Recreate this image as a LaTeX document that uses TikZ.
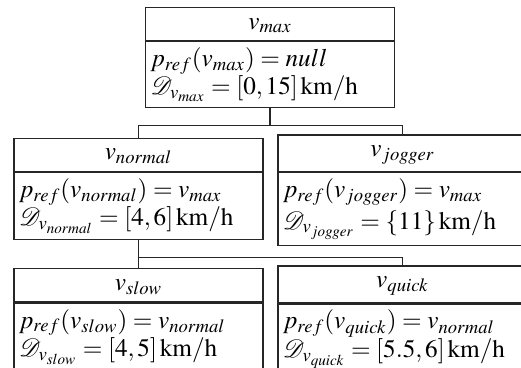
\documentclass[tikz,border=0pt]{standalone}
\usepackage{mathptmx}
\usetikzlibrary{positioning}
\definecolor{boxLine}{HTML}{262626}
\tikzset{
  headbox/.style={rectangle, draw=boxLine, line width=0.6pt, minimum width=124.5pt,
                  text height=7.2pt, inner ysep=3.6pt, anchor=south},
  bodybox/.style={rectangle, draw=boxLine, line width=0.6pt, text width=119.5pt,
                  align=left, inner xsep=2.5pt, inner ysep=3pt},
  link/.style={draw=boxLine, line width=0.55pt},
}

\begin{document}
\begin{tikzpicture}[font=\fontsize{12.6}{14.2}\selectfont]
    \useasboundingbox (0,0) rectangle (260.5pt,-184pt);
    \clip (0,0) rectangle (260.5pt,-184pt);
    % root
    \node[headbox] (maxH) at (135pt,-20.5pt) {$v_{max}$};
    \node[bodybox, below=0pt of maxH] (maxB)
      {$p_{ref}(v_{max}) = null$\\$\mathcal{D}_{v_{max}} = [0, 15]\,\mathrm{km/h}$};
    % second level
    \node[headbox] (normalH) at (69.25pt,-86pt) {$v_{normal}$};
    \node[bodybox, below=0pt of normalH] (normalB)
      {$p_{ref}(v_{normal}) = v_{max}$\\$\mathcal{D}_{v_{normal}} = [4, 6]\,\mathrm{km/h}$};
    \node[headbox] (joggerH) at (201.25pt,-86pt) {$v_{jogger}$};
    \node[bodybox, below=0pt of joggerH] (joggerB)
      {$p_{ref}(v_{jogger}) = v_{max}$\\[1.6pt]$\mathcal{D}_{v_{jogger}} = \{11\}\,\mathrm{km/h}$};
    % third level
    \node[headbox] (slowH) at (69.25pt,-151.3pt) {$v_{slow}$};
    \node[bodybox, below=0pt of slowH] (slowB)
      {$p_{ref}(v_{slow}) = v_{normal}$\\$\mathcal{D}_{v_{slow}} = [4, 5]\,\mathrm{km/h}$};
    \node[headbox] (quickH) at (201.25pt,-151.7pt) {$v_{quick}$};
    \node[bodybox, below=0pt of quickH] (quickB)
      {$p_{ref}(v_{quick}) = v_{normal}$\\$\mathcal{D}_{v_{quick}} = [5.5, 6]\,\mathrm{km/h}$};
    % connectors
    \coordinate (j1) at ([yshift=-8.5pt]maxB.south);
    \coordinate (j2) at ([yshift=-8.5pt]normalB.south);
    \draw[link] (maxB.south) -- (j1);
    \draw[link] (j1) -| (normalH.north);
    \draw[link] (j1) -| (joggerH.north);
    \draw[link] (normalB.south) -- (j2);
    \draw[link] (j2) -| (slowH.north);
    \draw[link] (j2) -| (quickH.north);
\end{tikzpicture}
\end{document}
